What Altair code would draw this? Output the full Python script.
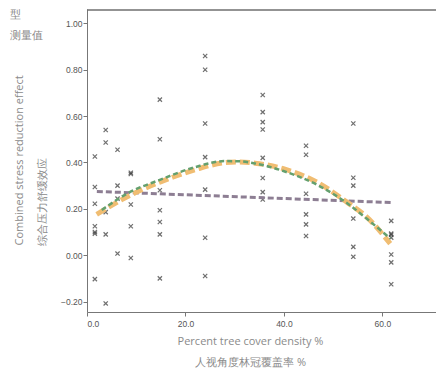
import altair as alt
import pandas as pd

# scatter data (tree cover %, stress reduction effect)
px = [1.6]*7 + [3.8]*5 + [6.2]*4 + [8.9]*5 + [14.8]*7 + [24.0]*7 + [35.7]*8 + [44.5]*6 + [54.1]*6 + [61.8]*7
py = [0.426, 0.294, 0.222, 0.125, 0.100, 0.093, -0.103,
      0.540, 0.486, 0.186, 0.090, -0.208,
      0.455, 0.300, 0.244, 0.007,
      0.356, 0.350, 0.219, 0.125, -0.012,
      0.671, 0.500, 0.280, 0.194, 0.143, 0.090, -0.100,
      0.859, 0.800, 0.568, 0.423, 0.283, 0.075, -0.090,
      0.691, 0.617, 0.574, 0.542, 0.420, 0.333, 0.272, 0.240,
      0.472, 0.433, 0.265, 0.176, 0.133, 0.083,
      0.568, 0.334, 0.300, 0.158, 0.036, -0.007,
      0.148, 0.093, 0.088, 0.076, 0.003, -0.031, -0.125]

# fitted lines
lin_x = [2.0, 61.9]
lin_y = [0.275, 0.227]
orange_x = [1.97, 8.7, 14.8, 22.0, 28.0, 31.0, 34.1, 39.9, 46.7, 52.8, 56.8, 61.6]
orange_y = [0.176, 0.258, 0.315, 0.369, 0.399, 0.402, 0.397, 0.373, 0.315, 0.229, 0.165, 0.050]
green_x = [3.0, 8.7, 14.8, 22.0, 28.0, 31.0, 34.1, 39.9, 46.7, 52.8, 56.8, 61.6]
green_y = [0.195, 0.272, 0.325, 0.380, 0.406, 0.405, 0.396, 0.363, 0.304, 0.225, 0.158, 0.072]

x_ticks = [0, 20, 40, 60]
y_ticks = [-0.2, 0.0, 0.2, 0.4, 0.6, 0.8, 1.0]
x_max = 70.9
y_top = 1.062
frame_y = 1.058

pts = pd.DataFrame({"x": px, "y": py})
lines = pd.concat([
    pd.DataFrame({"x": lin_x, "y": lin_y, "s": "linear"}),
    pd.DataFrame({"x": orange_x, "y": orange_y, "s": "quad"}),
    pd.DataFrame({"x": green_x, "y": green_y, "s": "cubic"}),
])

W, H = 349, 303
xs = alt.Scale(domain=[0, x_max], nice=False, zero=False)
ys = alt.Scale(domain=[-0.245, y_top], nice=False, zero=False)

label_font = "Liberation Sans"
title_font = "Open Sans"

xaxis = alt.Axis(values=x_ticks, format=".1f", grid=False, tickSize=4, labelPadding=3,
                 labelFontSize=8.5, labelColor="#555", labelFont=label_font,
                 domainColor="#777", tickColor="#777",
                 title=["Percent tree cover density %", "人视角度林冠覆盖率 %"],
                 titleFont=title_font, titleFontSize=11, titleFontWeight="normal",
                 titleColor="#8a8a8a", titleBaseline="top", titleY=23, titleLineHeight=21,
                 titleX=163, titleAlign="center")
yaxis = alt.Axis(values=y_ticks, format=".2f", grid=False, tickSize=4, labelPadding=1,
                 labelFontSize=8.5, labelColor="#555", labelFont=label_font,
                 domainColor="#777", tickColor="#777",
                 title=["Combined stress reduction effect", "综合压力舒缓效应"],
                 titleFont=title_font, titleFontSize=11, titleFontWeight="normal",
                 titleColor="#8a8a8a", titleAngle=270, titleAlign="left", titleBaseline="top",
                 titleX=-74, titleY=236, titleLineHeight=23)

points = alt.Chart(pts).mark_point(
    shape="M-1,-1L1,1M1,-1L-1,1", filled=False, stroke="#333", strokeWidth=1.2, size=18
).encode(x=alt.X("x:Q", scale=xs, axis=xaxis), y=alt.Y("y:Q", scale=ys, axis=yaxis))

def fit(s, color, width, dash):
    return alt.Chart(lines).transform_filter(alt.datum.s == s).mark_line(
        color=color, strokeWidth=width, strokeDash=dash, interpolate="monotone"
    ).encode(x=alt.X("x:Q", scale=xs), y=alt.Y("y:Q", scale=ys), order="x:Q")

purple = fit("linear", "#8d7e93", 3, [6, 3])
orange = fit("quad", "#f0bd72", 5, [10, 4])
green = fit("cubic", "#64a06e", 2.5, [5, 3])

frame = pd.DataFrame({"x0": [0.0], "x1": [x_max], "yt": [frame_y]})
topline = alt.Chart(frame).mark_rule(stroke="#6f6f6f", strokeWidth=1.5, opacity=1).encode(
    x=alt.X("x0:Q", scale=xs), x2="x1:Q", y=alt.Y("yt:Q", scale=ys))

legend_txt = pd.DataFrame({"t": ["型", "测量值"], "dy": [0, 21]})
legend = alt.Chart(legend_txt).mark_text(
    align="left", baseline="top", font=title_font, fontSize=11, color="#888"
).encode(text="t:N", x=alt.value(-77), y=alt.Y("dy:Q", scale=None))

chart = alt.layer(points, purple, orange, green, topline, legend).properties(
    width=W, height=H, background="white",
    padding={"left": 79, "top": 1, "right": 0, "bottom": 58},
    autosize=alt.AutoSizeParams(type="none"),
).configure_view(stroke=None)

chart.save("out.html", embed_options={"renderer": "svg", "actions": False})
